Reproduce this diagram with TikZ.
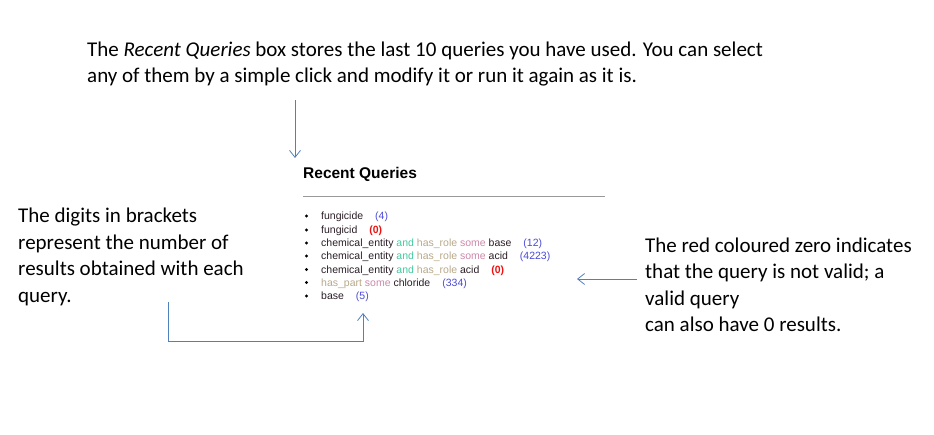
\documentclass[tikz,border=0pt]{standalone}
\usepackage{fontspec}
\setmainfont{Carlito}
\newfontfamily\listfont{Liberation Sans}
\usetikzlibrary{arrows.meta}
\definecolor{arrowblue}{HTML}{4F81BD}
\definecolor{qtext}{HTML}{2A1E26}
\definecolor{qcount}{HTML}{4A4AD8}
\definecolor{qzero}{HTML}{EE1111}
\definecolor{qand}{HTML}{40C8A0}
\definecolor{qprop}{HTML}{B8A88A}
\definecolor{qsome}{HTML}{CC88AA}
\newcommand{\qcnt}[1]{\hspace{12pt}\textcolor{qcount}{(#1)}}
\newcommand{\qbad}{\hspace{12pt}\textcolor{qzero}{\bfseries(0)}}
\newcommand{\qA}{\textcolor{qand}{and}}
\newcommand{\qR}[1]{\textcolor{qprop}{#1}}
\newcommand{\qS}{\textcolor{qsome}{some}}
\begin{document}
\begin{tikzpicture}[x=1pt,y=-1pt,
  note/.style={anchor=base west,inner sep=0pt,font=\fontsize{21}{26.5}\selectfont,align=left,text=black},
  qitem/.style={anchor=base west,inner sep=0pt,font=\listfont\fontsize{10.5}{12}\selectfont,text=qtext},
  qbullet/.style={circle,fill=black,inner sep=0pt,minimum size=3.2pt},
  pointer/.style={draw=arrowblue,line width=0.9pt,-{Straight Barb[length=7pt,width=11pt,line width=0.8pt]}}]
  \useasboundingbox (0,0) rectangle (934,435);

  % explanatory texts (placed by the baseline of their last line)
  \node[note] (top) at (87,83) {The \textit{Recent Queries} box stores the last 10 queries you have used. You can select\\any of them by a simple click and modify it or run it again as it is.};
  \node[note] (left) at (18,302.5) {The digits in brackets\\represent the number of\\results obtained with each\\query.};
  \node[note] (right) at (645,332) {The red coloured zero indicates\\that the query is not valid; a\\valid query\\can also have 0 results.};

  % the query box
  \node[anchor=base west,inner sep=0pt,font=\listfont\bfseries\fontsize{15.5}{18}\selectfont] (title) at (303,178.5) {Recent Queries};
  \draw[gray!80,line width=0.8pt,dash pattern=on 0.4pt off 0.5pt] (303,196) coordinate (rule1) -- (604,196) coordinate (rule2);

  \foreach \y/\name/\txt in {
      216/q1/{fungicide\qcnt{4}},
      230/q2/{fungicid\qbad},
      243/q3/{chemical\_entity \qA{} \qR{has\_role} \qS{} base\qcnt{12}},
      256/q4/{chemical\_entity \qA{} \qR{has\_role} \qS{} acid\qcnt{4223}},
      269.5/q5/{chemical\_entity \qA{} \qR{has\_role} acid\qbad},
      282.5/q6/{\qR{has\_part} \qS{} chloride\qcnt{334}},
      296/q7/{base\qcnt{5}}} {
    \node[qbullet] (b\name) at (306.5,\y) {};
    \node[qitem] (\name) at (321,\y+3.8) {\txt};
  }

  % pointers
  \coordinate (topstart) at (295,100);
  \coordinate (topend) at (295,158);
  \draw[pointer] (topstart) -- (topend);

  \coordinate (leftstart) at (168,302);
  \coordinate (leftend) at (363,313);
  \draw[pointer] (leftstart) |- (363,341) -- (leftend);

  \coordinate (rightstart) at (637,279);
  \coordinate (rightend) at (577,279);
  \draw[pointer] (rightstart) -- (rightend);
\end{tikzpicture}
\end{document}
